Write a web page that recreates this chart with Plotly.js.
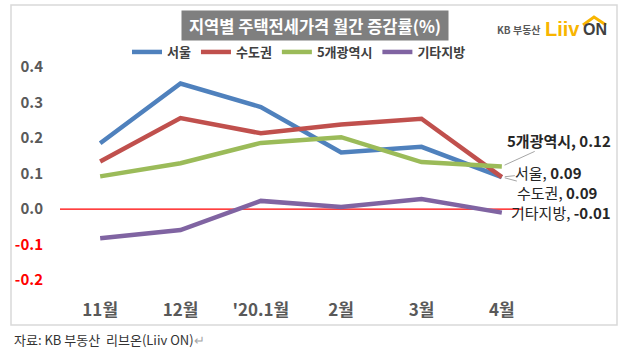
<!DOCTYPE html>
<html>
<head>
<meta charset="utf-8">
<script src="https://cdn.plot.ly/plotly-3.0.1.min.js"></script>
<style>
html,body{margin:0;padding:0;background:#fff;}
#chart{width:623px;height:352px;}
</style>
</head>
<body>
<div id="chart"></div>
<script>
// ---- data ----
const months = ["11월", "12월", "'20.1월", "2월", "3월", "4월"];
const seriesNames = ["서울", "수도권", "5개광역시", "기타지방"];
const seoul = [0.185, 0.353, 0.287, 0.159, 0.175, 0.09];
const sudo = [0.134, 0.256, 0.213, 0.238, 0.254, 0.09];
const metro = [0.092, 0.129, 0.186, 0.202, 0.132, 0.12];
const other = [-0.082, -0.059, 0.023, 0.006, 0.028, -0.01];
const yTicks = [-0.2, -0.1, 0.0, 0.1, 0.2, 0.3, 0.4];
const titleText = "지역별 주택전세가격 월간 증감률(%)";
const sourceText = "자료: KB 부동산\u00a0\u00a0리브온(Liiv ON)";

// ---- styling ----
const FONT = "'Noto Sans CJK KR', 'Noto Sans', sans-serif";
const colors = ["#4f81bd", "#c0504d", "#9bbb59", "#8064a2"];
const allSeries = [seoul, sudo, metro, other];

const L = 60, T = 49, W = 482, H = 249;
const px = x => (x - L) / W;
const py = y => (T + H - y) / H;

const traces = allSeries.map((vals, i) => ({
  type: "scatter",
  mode: "lines",
  x: months,
  y: vals,
  name: seriesNames[i],
  line: {color: colors[i], width: 4.5},
  hoverinfo: "skip"
}));

const last = months.length - 1;
// end-label offsets (pixels)
const labelPos = [
  {ax: 47, ay: -5, arrow: true},
  {ax: 56, ay: 15, arrow: true},
  {ax: 57, ay: -26, arrow: true},
  {ax: 59, ay: 0, arrow: false}
];
const endLabels = allSeries.map((vals, i) => {
  const v = vals[last].toFixed(2);
  const txt = i === 2
    ? "<b>" + seriesNames[i] + ", " + v + "</b>"
    : seriesNames[i] + ", <b>" + v + "</b>";
  const p = labelPos[i];
  const a = {
    xref: "x", yref: "y", x: months[last], y: vals[last],
    text: txt,
    font: {family: FONT, size: 15, color: "#262626"},
    showarrow: p.arrow,
    borderpad: 0
  };
  if (p.arrow) {
    Object.assign(a, {ax: p.ax, ay: p.ay, arrowhead: 0, arrowwidth: 1, arrowcolor: "#a6a6a6", standoff: 3});
  } else {
    Object.assign(a, {xshift: p.ax, yshift: -p.ay});
  }
  return a;
});

const tickText = yTicks.map(v => v < 0
  ? '<span style="color:#ff0000">' + v.toFixed(1) + '</span>'
  : v.toFixed(1));

const layout = {
  width: 623, height: 352,
  margin: {l: L, r: 623 - L - W, t: T, b: 352 - T - H},
  paper_bgcolor: "#ffffff",
  plot_bgcolor: "rgba(0,0,0,0)",
  showlegend: true,
  legend: {
    orientation: "h",
    x: px(127), xanchor: "left",
    y: py(52), yanchor: "middle",
    font: {family: FONT, size: 13, color: "#404040", weight: "bold"},
    bgcolor: "rgba(0,0,0,0)",
    itemwidth: 30,
    tracegroupgap: 0
  },
  xaxis: {
    type: "category",
    range: [-0.5, 5.5],
    showgrid: false, zeroline: false, showline: false,
    ticks: "",
    tickfont: {family: FONT, size: 17, color: "#595959", weight: "bold"},
    fixedrange: true
  },
  yaxis: {
    range: [-0.25, 0.45],
    showgrid: false, zeroline: false, showline: false,
    tickvals: yTicks,
    ticktext: tickText,
    ticks: "",
    ticklabelstandoff: 16,
    tickfont: {family: FONT, size: 15, color: "#595959", weight: "bold"},
    fixedrange: true
  },
  shapes: [
    {type: "rect", xref: "paper", yref: "paper",
     x0: px(11), x1: px(617), y0: py(325), y1: py(5),
     line: {color: "#d9d9d9", width: 1.5}, fillcolor: "rgba(0,0,0,0)", layer: "below"},
    {type: "line", xref: "paper", yref: "y",
     x0: 0, x1: px(523), y0: 0, y1: 0,
     line: {color: "#ff0000", width: 1.2}, layer: "below"},
    {type: "path", xref: "paper", yref: "paper",
     path: "M " + px(583) + " " + py(25) + " L " + px(594) + " " + py(17) + " L " + px(606) + " " + py(25),
     line: {color: "#f8b500", width: 3}}
  ],
  annotations: [
    {xref: "paper", yref: "paper", x: px(315), y: py(25.5),
     xanchor: "center", yanchor: "middle", showarrow: false,
     text: titleText, width: 264, height: 27, bgcolor: "#7f7f7f",
     font: {family: FONT, size: 16.5, color: "#ffffff", weight: "bold"}},
    {xref: "paper", yref: "paper", x: px(519), y: py(30),
     xanchor: "center", yanchor: "middle", showarrow: false,
     text: "KB 부동산", font: {family: FONT, size: 10, color: "#595959", weight: "bold"}},
    {xref: "paper", yref: "paper", x: px(562), y: py(29),
     xanchor: "center", yanchor: "middle", showarrow: false,
     text: "Liiv", font: {family: "'Liberation Sans', sans-serif", size: 20, color: "#f8b500", weight: "bold"}},
    {xref: "paper", yref: "paper", x: px(595), y: py(30),
     xanchor: "center", yanchor: "middle", showarrow: false,
     text: "ON", font: {family: "'Liberation Sans', sans-serif", size: 16, color: "#404040", weight: "bold"}},
    {xref: "paper", yref: "paper", x: px(12), y: py(340),
     xanchor: "left", yanchor: "middle", showarrow: false,
     text: sourceText + '<span style="color:#a6a6a6">↵</span>',
     font: {family: FONT, size: 13, color: "#333333"}}
  ].concat(endLabels)
};

Plotly.newPlot("chart", traces, layout, {displayModeBar: false, staticPlot: true});
</script>
</body>
</html>
